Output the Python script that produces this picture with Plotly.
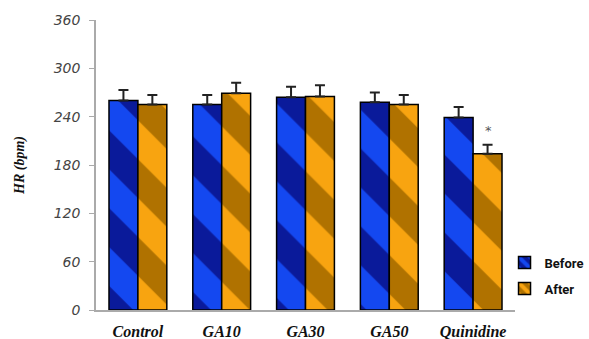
import plotly.graph_objects as go

categories = ["Control", "GA10", "GA30", "GA50", "Quinidine"]
before = [260, 255, 264, 258, 239]
after = [255, 269, 265, 255, 194]
before_err = [13, 12, 13, 12, 13]
after_err = [12, 13, 14, 12, 11]
y_ticks = [0, 60, 120, 180, 240, 300, 360]

fig = go.Figure()
fig.add_trace(go.Bar(
    name="Before", x=categories, y=before, legendgroup="b",
    marker=dict(color="#0a2bd0", line=dict(color="black", width=1.5),
                pattern=dict(shape="\\", bgcolor="#0a1a9a", fgcolor="#1448f0",
                             size=55, solidity=0.5, fillmode="replace")),
    error_y=dict(type="data", symmetric=False, array=before_err,
                 arrayminus=[0] * len(before_err), color="#222222", thickness=2, width=5),
))
fig.add_trace(go.Bar(
    name="After", x=categories, y=after, legendgroup="a",
    marker=dict(color="#e09000", line=dict(color="black", width=1.5),
                pattern=dict(shape="\\", bgcolor="#b07200", fgcolor="#f8a410",
                             size=55, solidity=0.5, fillmode="replace")),
    error_y=dict(type="data", symmetric=False, array=after_err,
                 arrayminus=[0] * len(after_err), color="#222222", thickness=2, width=5),
))

fig.add_annotation(x="Quinidine", y=after[4] + after_err[4], xshift=15, yshift=14,
                   text="*", showarrow=False,
                   font=dict(family="DejaVu Sans", size=13, color="#555555"))

fig.update_layout(
    width=589, height=339,
    margin=dict(l=96, r=74, t=20, b=29, autoexpand=False),
    paper_bgcolor="white", plot_bgcolor="white",
    barmode="group", bargap=0.31, bargroupgap=0,
    showlegend=True,
    legend=dict(x=0.975, y=0.215, xanchor="left", yanchor="top",
                bgcolor="rgba(0,0,0,0)",
                font=dict(family="Roboto", size=13, color="#111111", weight="bold"),
                itemwidth=30, tracegroupgap=6),
    xaxis=dict(showline=True, linecolor="#aaaaaa", linewidth=1.5, ticks="",
               automargin=False, ticklabelstandoff=6,
               tickfont=dict(family="Liberation Serif", size=16, color="#111111",
                             style="italic", weight="bold")),
    yaxis=dict(range=[0, 360], tickvals=y_ticks, showgrid=False, zeroline=False,
               showline=True, linecolor="#aaaaaa", linewidth=1.5, automargin=False,
               ticks="outside", ticklen=5, tickcolor="#aaaaaa", ticklabelstandoff=6,
               tickfont=dict(family="DejaVu Sans", size=14, color="#444444", style="italic"),
               title=dict(text="HR (bpm)", standoff=26,
                          font=dict(family="Liberation Serif", size=14, color="#111111",
                                    style="italic", weight="bold"))),
)

fig.write_html("out.html", config={"displayModeBar": False},
               post_script="document.body.style.margin='0';")
